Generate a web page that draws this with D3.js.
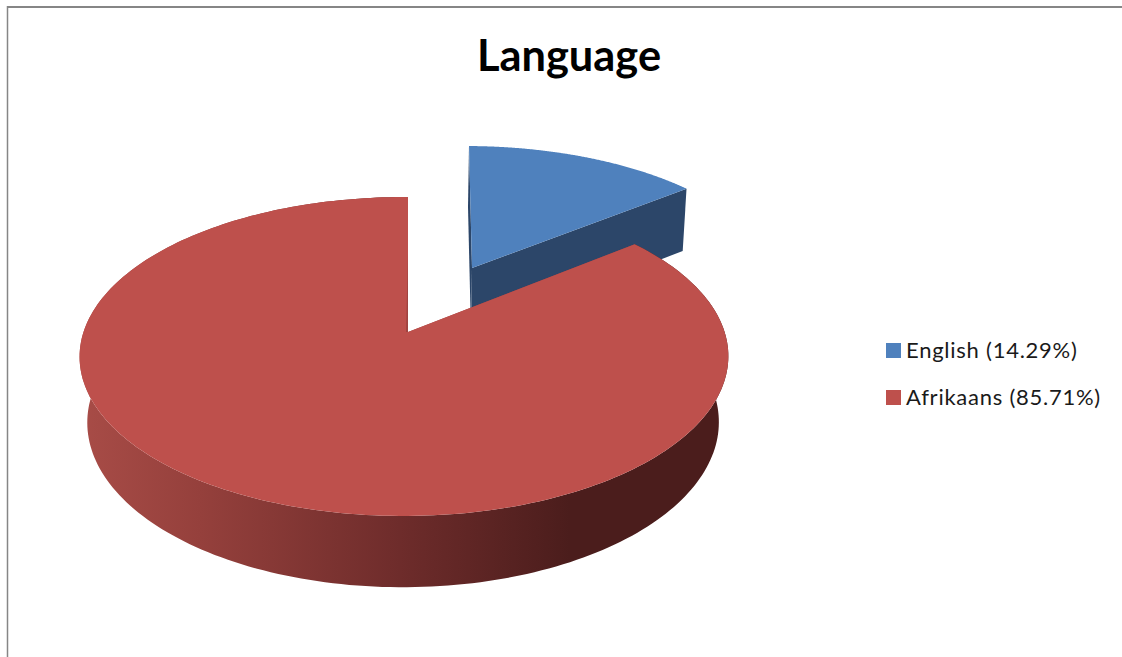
<!DOCTYPE html>
<html>
<head>
<meta charset="utf-8">
<script src="https://cdn.jsdelivr.net/npm/d3@7/dist/d3.min.js"></script>
<style>html,body{margin:0;padding:0;background:#fff;overflow:hidden}svg{display:block}</style>
</head>
<body>
<svg id="c" width="1122" height="657"></svg>
<script>
const titleText = "Language";
const categories = ["English", "Afrikaans"];
const values = [14.29, 85.71];
const legendLabels = ["English (14.29%)", "Afrikaans (85.71%)"];
const topColors = ["#4f81bd", "#be504c"];
const edgeColors = ["#2c4669", "#a04340"];
const sideStops = [[80,"#a84c47"],[200,"#95403c"],[400,"#6e2c2b"],[570,"#4b1d1c"],[728,"#4b1d1c"]];

// Perspective projection of each slice's disc (top face and bottom face)
const K = 0.1536, M = 0.0123;
const frames = [
  { top:{x0:472,y0:268,A:306,B:140.7,s:-3.46}, bottom:{x0:471,y0:333,A:302,B:145.5,s:-3.46} },
  { top:{x0:408,y0:332,A:320.5,B:155.7,s:0},   bottom:{x0:407,y0:397,A:312,B:161,s:0} }
];
const project = (f, th, r = 1) => {
  const X = Math.sin(th) * r, Y = Math.cos(th) * r, D = 1 + K * Y + M * X;
  return [f.x0 + (f.A * X + f.s * Y) / D, f.y0 - f.B * Y / D];
};

const svg = d3.select("#c");
const line = d3.line();
const arcs = d3.pie().sort(null).value(d => d).startAngle(0).endAngle(2 * Math.PI)(values);
const samples = (a, b) => d3.range(0, 241).map(i => a + (b - a) * i / 240);

// Chart frame
svg.append("line").attr("x1",7).attr("y1",7).attr("x2",1122).attr("y2",7).attr("stroke","#868686").attr("stroke-width",2);
svg.append("line").attr("x1",7.5).attr("y1",6).attr("x2",7.5).attr("y2",657).attr("stroke","#868686").attr("stroke-width",1.5);

// Side gradient
const grad = svg.append("defs").append("linearGradient").attr("id","side")
  .attr("gradientUnits","userSpaceOnUse").attr("x1",80).attr("x2",728).attr("y1",0).attr("y2",0);
sideStops.forEach(s => grad.append("stop").attr("offset",(s[0]-80)/648).attr("stop-color",s[1]));

arcs.forEach((a, i) => {
  const f = frames[i], g = svg.append("g");
  const ths = samples(a.startAngle, a.endAngle);
  const tc = [f.top.x0, f.top.y0], bc = [f.bottom.x0, f.bottom.y0];
  const topArc = ths.map(t => project(f.top, t));
  const botArc = ths.map(t => project(f.bottom, t));
  // outer wall, as a strip of quads so the silhouette joins both discs
  if (i === 1) {
    const strip = d3.pairs(d3.range(ths.length))
      .map(([p, q]) => line([topArc[p], topArc[q], botArc[q], botArc[p]]) + "Z").join("");
    g.append("path").attr("d", strip).attr("fill","url(#side)");
  }
  // cut faces
  [a.startAngle, a.endAngle].forEach(e => {
    g.append("path")
      .attr("d", line([tc, project(f.top, e), project(f.bottom, e), bc]) + "Z")
      .attr("fill", edgeColors[i]);
  });
  // top face
  g.append("path").attr("d", line([tc].concat(topArc)) + "Z").attr("fill", topColors[i]);
  // thin shaded sliver along the notch edge of the large slice
  if (i === 1) {
    g.append("path")
      .attr("d", line([tc, project(f.top, a.endAngle, 0.55), [tc[0] - 2, tc[1]]]) + "Z")
      .attr("fill", edgeColors[i]);
  }
});

// Title
svg.append("text").attr("x",569).attr("y",71).attr("text-anchor","middle")
  .attr("font-family","Lato, 'Open Sans', sans-serif").attr("font-weight",700).attr("font-size",43.4)
  .attr("fill","#000").text(titleText);

// Legend
const legendY = d3.scalePoint().domain(categories).range([358, 405]);
categories.forEach((c, i) => {
  const y = legendY(c);
  svg.append("rect").attr("x",886).attr("y",y-15).attr("width",15).attr("height",15).attr("fill",topColors[i]);
  svg.append("text").attr("x",906).attr("y",y).attr("font-family","Lato, 'Open Sans', sans-serif")
    .attr("font-size",22).attr("letter-spacing",0.75).attr("fill","#1a1a1a").text(legendLabels[i]);
});
</script>
</body>
</html>
